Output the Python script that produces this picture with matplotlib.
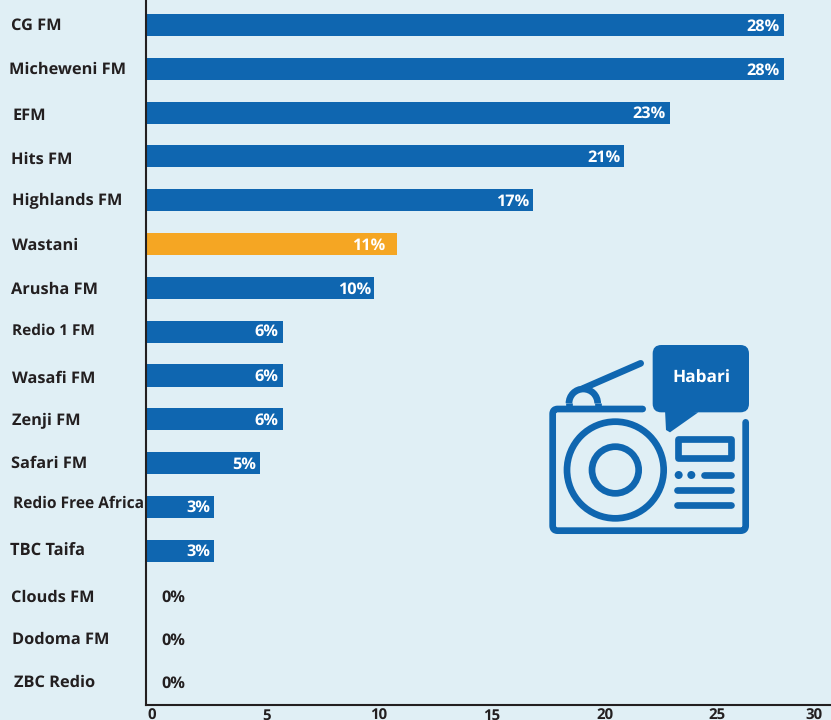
import matplotlib
matplotlib.use("Agg")
import matplotlib.pyplot as plt
from matplotlib.patches import Circle, FancyBboxPatch, Polygon, PathPatch, Arc
from matplotlib.path import Path
from matplotlib.transforms import ScaledTranslation

# ---- data ----
stations = ["CG FM", "Micheweni FM", "EFM", "Hits FM", "Highlands FM", "Wastani", "Arusha FM",
            "Redio 1 FM", "Wasafi FM", "Zenji FM", "Safari FM", "Redio Free Africa", "TBC Taifa",
            "Clouds FM", "Dodoma FM", "ZBC Redio"]
values = [28, 28, 23, 21, 17, 11, 10, 6, 6, 6, 5, 3, 3, 0, 0, 0]
x_ticks = [0, 5, 10, 15, 20, 25, 30]
highlight = "Wastani"

# ---- style ----
BG = "#e0eff5"
BLUE = "#0f66b0"
ORANGE = "#f5a623"
INK = "#231f20"
plt.rcParams["font.family"] = ["Open Sans", "DejaVu Sans"]
plt.rcParams["font.weight"] = "bold"
plt.rcParams["text.hinting"] = "none"
plt.rcParams["text.hinting_factor"] = 8

W, H = 831, 720
fig = plt.figure(figsize=(W / 100, H / 100), dpi=100, facecolor=BG)
ax = fig.add_axes([146 / W, (H - 704.5) / H, 685 / W, 704.5 / H], facecolor=BG)

rows = list(range(len(stations)))
colors = [ORANGE if s == highlight else BLUE for s in stations]
ax.barh(rows, values, height=0.505, color=colors)
ax.set_xlim(0, 685 / 22.78)
ax.set_ylim(15.51, -0.57)

for s in ("top", "right"):
    ax.spines[s].set_visible(False)
for s in ("left", "bottom"):
    ax.spines[s].set_color(INK)
    ax.spines[s].set_linewidth(1.5)
ax.tick_params(length=0)
ax.tick_params(axis="y", pad=0)
ax.tick_params(axis="x", pad=3)

# category labels, hand-placed in the source: left edge, vertical shift in px, size
label_left = [11, 9, 13, 11, 12, 12, 11, 12, 12, 12, 11, 13, 10, 11, 12, 14]
label_shift = [1, 1, 3, 3, 1, 2, 2, -1, 3, 2, 1, -3, 0, 3, 1, 1]
label_size = [11.8, 11.8, 11.8, 11.8, 11.8, 11.8, 11.8, 11.1, 11.8, 11.8, 11.8, 11.2, 11.9, 11.8, 11.8, 11.8]
ax.set_yticks(rows, stations, color=INK, ha="left", va="center")
for lab, left, dy, size in zip(ax.get_yticklabels(), label_left, label_shift, label_size):
    lab.set_fontsize(size)
    lab.set_transform(lab.get_transform() +
                      ScaledTranslation((left - 146) / 100, -dy / 100, fig.dpi_scale_trans))

# x tick labels, hand-shifted in the source
tick_dx = [6, 7, 5, 4, 3, 1, -15]
ax.set_xticks(x_ticks, [str(t) for t in x_ticks], fontsize=10.8, color=INK)
for lab, dx in zip(ax.get_xticklabels(), tick_dx):
    lab.set_transform(lab.get_transform() + ScaledTranslation(dx / 100, 0, fig.dpi_scale_trans))

# value labels; offsets in px (the source nudged some by hand)
value_dx = [-4, -4, -4, -4, -4, -11, -3, -4, -4, -4, -4, -4, -4, 27, 27, 27]
value_dy = [1.5, 1.5, 1.5, 1.5, 1.5, 1.5, 1.5, 0, 1.5, 1.5, 1.5, 1, 1, 3, 2, 1.5]
for i, v in enumerate(values):
    off = (value_dx[i] * 0.72, -value_dy[i] * 0.72)
    if v > 0:
        ax.annotate(f"{v}%", (v, i), xytext=off, textcoords="offset points",
                    ha="right", va="center", color="white", fontsize=11.7)
    else:
        ax.annotate(f"{v}%", (0, i), xytext=off, textcoords="offset points",
                    ha="center", va="center", color=INK, fontsize=11.7)

# ---- radio icon, drawn in the coordinates of the reference crop ----
ic = fig.add_axes([0, 0, 1, 1], facecolor="none")
ic.set_xlim(-530 * 3, (W - 530) * 3)
ic.set_ylim((H - 335) * 3, -335 * 3)
ic.axis("off")
LW = 6.7 * 0.72
kw = dict(fill=False, edgecolor=BLUE, linewidth=LW, capstyle="round", joinstyle="round")

body = Path([(338, 222), (83, 222), (68, 222), (68, 237), (68, 572), (68, 587), (83, 587),
             (632, 587), (647, 587), (647, 572), (647, 262)],
            [Path.MOVETO, Path.LINETO, Path.CURVE3, Path.CURVE3, Path.LINETO, Path.CURVE3, Path.CURVE3,
             Path.LINETO, Path.CURVE3, Path.CURVE3, Path.LINETO])
ic.add_patch(PathPatch(body, **kw))
ic.plot([160, 332], [160, 85], color=BLUE, lw=LW, solid_capstyle="round")
ic.add_patch(Arc((160, 205), 86, 86, theta1=180, theta2=360, edgecolor=BLUE, linewidth=LW))
ic.plot([117, 117], [205, 222], color=BLUE, lw=LW, solid_capstyle="butt")
ic.plot([203, 203], [205, 222], color=BLUE, lw=LW, solid_capstyle="butt")
ic.add_patch(Circle((256, 405), 145, fill=False, edgecolor=BLUE, linewidth=LW))
ic.add_patch(Circle((256, 405), 70, fill=False, edgecolor=BLUE, linewidth=LW))
ic.add_patch(Polygon([(443, 313), (604, 313), (604, 370), (443, 370)], closed=True, **kw))
ic.add_patch(Circle((446, 420), 12, color=BLUE, lw=0))
ic.add_patch(Circle((484, 420), 12, color=BLUE, lw=0))
for x0, y0 in [(523, 420), (442, 466), (442, 511)]:
    ic.plot([x0, 604], [y0, y0], color=BLUE, lw=LW, solid_capstyle="round")
ic.add_patch(FancyBboxPatch((368, 30), 289, 202, boxstyle="round,pad=0,rounding_size=26",
                            facecolor=BLUE, edgecolor="none", linewidth=0))
ic.add_patch(Polygon([(405, 225), (408, 285), (420, 292), (505, 232)], closed=True, color=BLUE, lw=0))
ic.text(513, 129, "Habari", color="white", fontsize=12.4, ha="center", va="center")

fig.savefig("out.png", dpi=100, facecolor=BG)
